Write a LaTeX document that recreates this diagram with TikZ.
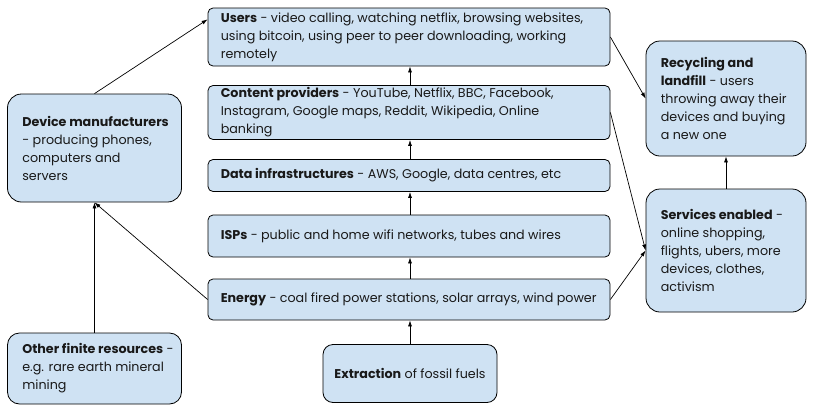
\documentclass[tikz,border=0pt]{standalone}
\usepackage{fontspec}
\setmainfont{Poppins}
\usetikzlibrary{arrows.meta}
\definecolor{boxfill}{HTML}{CFE2F3}
\begin{document}
\begin{tikzpicture}[x=1pt,y=-1pt,
  box/.style={draw=black,fill=boxfill,line width=0.8pt,inner sep=0pt,rounded corners=#1},
  box/.default=5pt,
  txt/.style={align=left,inner sep=0pt,font=\fontsize{12.7}{18}\selectfont,text=black!90},
  arr/.style={line width=0.7pt,-{Latex[length=6pt,width=4pt]}}]
\useasboundingbox (0,0) rectangle (817,410);
% boxes
\node[box, minimum width=402pt, minimum height=58pt,
  label={[txt,anchor=west,xshift=13pt]west:{\textbf{Users} - video calling, watching netflix, browsing websites,\\using bitcoin, using peer to peer downloading, working\\remotely}}] (users) at (409,37) {};
\node[box, minimum width=402pt, minimum height=54pt,
  label={[txt,anchor=west,xshift=13pt]west:{\textbf{Content providers} - YouTube, Netflix, BBC, Facebook,\\Instagram, Google maps, Reddit, Wikipedia, Online\\banking}}] (content) at (409,112.5) {};
\node[box, minimum width=402pt, minimum height=32pt,
  label={[txt,anchor=west,xshift=13pt]west:{\textbf{Data infrastructures} - AWS, Google, data centres, etc}}] (data) at (409,175.5) {};
\node[box, minimum width=402pt, minimum height=42pt,
  label={[txt,anchor=west,xshift=13pt]west:{\textbf{ISPs} - public and home wifi networks, tubes and wires}}] (isps) at (409,236) {};
\node[box, minimum width=402pt, minimum height=41pt,
  label={[txt,anchor=west,xshift=13pt]west:{\textbf{Energy} - coal fired power stations, solar arrays, wind power}}] (energy) at (409,299.5) {};
\node[box=10pt, minimum width=174pt, minimum height=58pt, txt] (extr) at (410,373.5) {\textbf{Extraction} of fossil fuels};
\node[box=14pt, minimum width=174pt, minimum height=108pt,
  label={[txt,anchor=west,xshift=15pt]west:{\textbf{Device manufacturers}\\- producing phones,\\computers and\\servers}}] (dev) at (94.5,148) {};
\node[box=12pt, minimum width=174pt, minimum height=71pt,
  label={[txt,anchor=west,xshift=15pt]west:{\textbf{Other finite resources} -\\e.g. rare earth mineral\\mining}}] (other) at (94.5,368.5) {};
\node[box=14pt, minimum width=160pt, minimum height=115pt,
  label={[txt,anchor=west,xshift=15pt]west:{\textbf{Recycling and}\\\textbf{landfill} - users\\throwing away their\\devices and buying\\a new one}}] (rec) at (726,98.5) {};
\node[box=14pt, minimum width=160pt, minimum height=123pt,
  label={[txt,anchor=west,xshift=15pt]west:{\textbf{Services enabled} -\\online shopping,\\flights, ubers, more\\devices, clothes,\\activism}}] (serv) at (726,250.5) {};
% connectors
\draw[arr] (extr.north) -- (extr.north |- energy.south);
\draw[arr] (extr.north |- energy.north) -- (extr.north |- isps.south);
\draw[arr] (extr.north |- isps.north) -- (extr.north |- data.south);
\draw[arr] (extr.north |- data.north) -- (extr.north |- content.south);
\draw[arr] (extr.north |- content.north) -- (extr.north |- users.south);
\draw[arr] (dev.north) -- (users.175);
\draw[arr] (other.north) -- (dev.south);
\draw[arr] (energy.west) -- (dev.south);
\draw[arr] (users.east) -- (rec.west);
\draw[arr] (content.east) -- (serv.west);
\draw[arr] (energy.east) -- (serv.west);
\draw[arr] (serv.north) -- (rec.south);
\end{tikzpicture}
\end{document}
